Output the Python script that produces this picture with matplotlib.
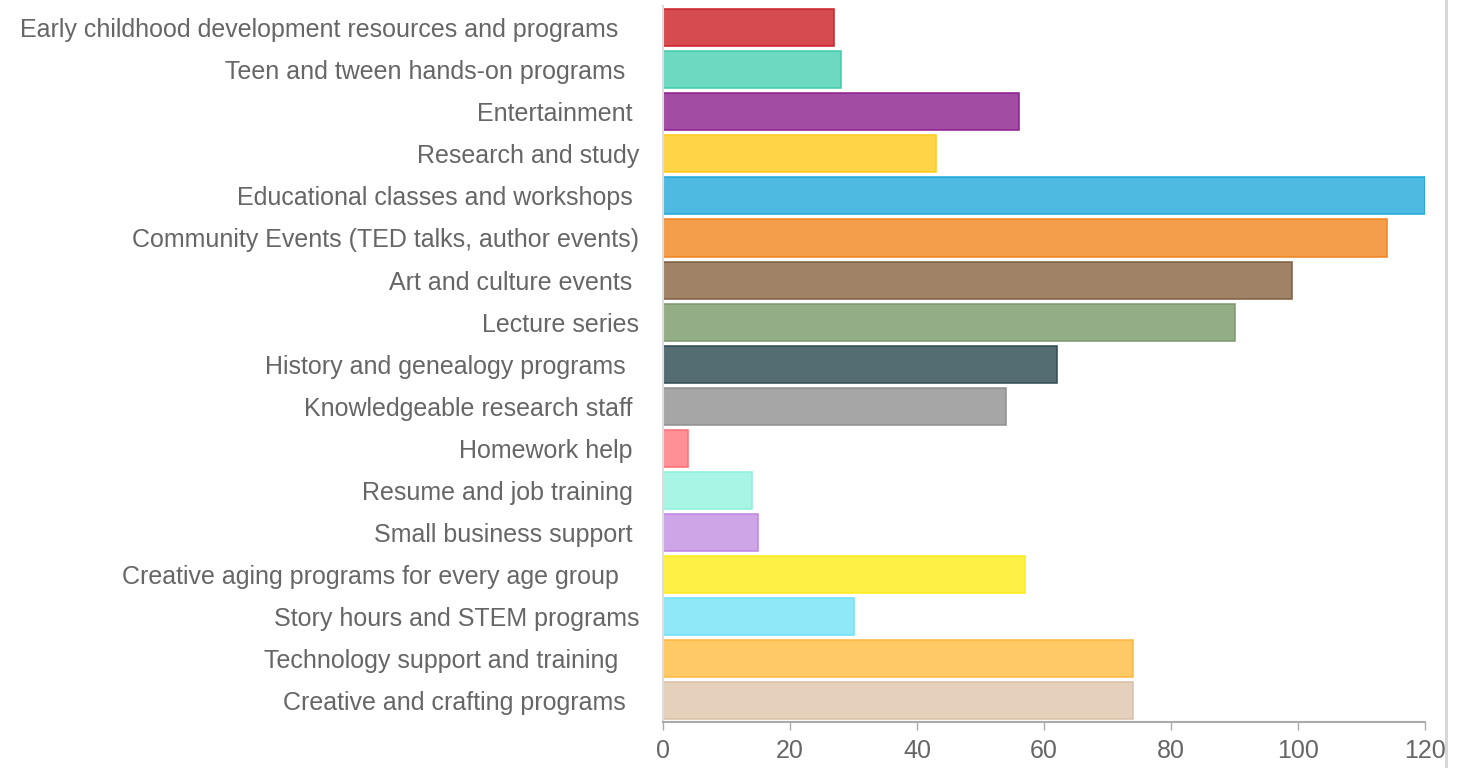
import matplotlib.pyplot as plt
from matplotlib.lines import Line2D

plt.rcParams['font.family'] = ['Liberation Sans', 'DejaVu Sans']

# chart data, top bar first
labels = [
    'Early childhood development resources and programs   ',
    'Teen and tween hands-on programs  ',
    'Entertainment ',
    'Research and study',
    'Educational classes and workshops ',
    'Community Events (TED talks, author events)',
    'Art and culture events ',
    'Lecture series',
    'History and genealogy programs  ',
    'Knowledgeable research staff ',
    'Homework help ',
    'Resume and job training ',
    'Small business support ',
    'Creative aging programs for every age group   ',
    'Story hours and STEM programs',
    'Technology support and training   ',
    'Creative and crafting programs  ',
]
values = [27, 28, 56, 43, 120, 114, 99, 90, 62, 54, 4, 14, 15, 57, 30, 74, 74]
fills = ['#D64B4F', '#6CD9C0', '#A24CA3', '#FFD447', '#4EB9E1', '#F49E4C',
         '#A08266', '#93AE87', '#546D73', '#A6A6A6', '#FF9095', '#A8F5E6',
         '#CEA6E8', '#FFF046', '#8EE8F8', '#FFC966', '#E5D0BC']
edges = ['#CC1F27', '#40CCA8', '#8E1C8F', '#FFCA1A', '#1CA8DC', '#F28322',
         '#7F5E43', '#79996B', '#2F4B52', '#8F8F8F', '#FF6E75', '#8CF0DC',
         '#BF85E3', '#FFEB1A', '#6EE0F5', '#FFB640', '#D9BEA6']
xticks = [0, 20, 40, 60, 80, 100, 120]

fig = plt.figure(figsize=(14.63, 7.68), dpi=100)
ax = fig.add_axes([663 / 1463, 1 - 722 / 768, (1425 - 663) / 1463, (722 - 6.5) / 768])

pos = list(range(len(values)))
ax.barh(pos, values, height=0.88, color=fills, edgecolor=edges, linewidth=1.1)

ax.set_xlim(0, 120)
ax.set_ylim(len(values) - 0.5, -0.5)
ax.set_yticks(pos)
ax.set_yticklabels(labels, fontsize=18, color='#666666')
ax.tick_params(axis='y', length=0, pad=17)
ax.set_xticks(xticks)
ax.set_xticklabels([str(t) for t in xticks], fontsize=18, color='#666666')
ax.tick_params(axis='x', length=6, width=1, color='#aaaaaa', pad=6)

for s in ['top', 'right']:
    ax.spines[s].set_visible(False)
ax.spines['left'].set_color('#dddddd')
ax.spines['left'].set_linewidth(1.5)
ax.spines['bottom'].set_color('#aaaaaa')
ax.spines['bottom'].set_linewidth(1.5)

# light border line at right of the chart area
fig.add_artist(Line2D([1446 / 1463, 1446 / 1463], [0, 1], color='#d5d5d5', linewidth=2))

fig.savefig('out.png', dpi=100)
